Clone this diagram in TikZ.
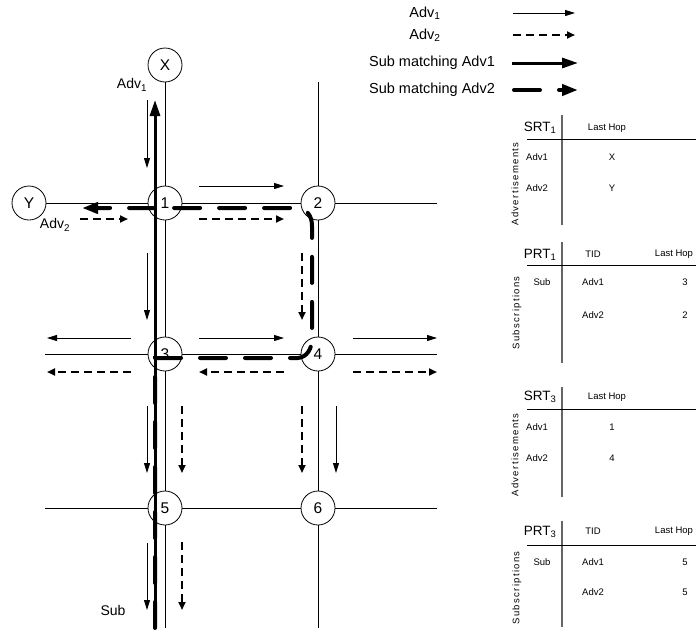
\documentclass[tikz,border=0pt]{standalone}
\usepackage{fontspec}
\setmainfont{Liberation Sans}
\usetikzlibrary{arrows.meta}
\begin{document}
\begin{tikzpicture}[x=1pt,y=-1pt,
  grid/.style={line width=0.8pt},
  nd/.style={circle,draw,fill=white,line width=0.8pt,minimum size=34pt,inner sep=0pt,font=\fontsize{15.5}{16}\selectfont},
  advone/.style={line width=0.9pt,-{Triangle[length=10pt,width=6pt]}},
  advtwo/.style={line width=2pt,dash pattern=on 8pt off 5pt,-{Triangle[length=8pt,width=7pt]}},
  subone/.style={line width=3pt,-{Triangle[length=16pt,width=10pt]}},
  subtwo/.style={line width=4pt,line cap=round,dash pattern=on 26pt off 19pt,-{Triangle[length=16pt,width=11pt]}},
  lbl/.style={font=\fontsize{14}{16}\selectfont,inner sep=0pt},
  lgd/.style={font=\fontsize{14.5}{16}\selectfont,inner sep=0pt},
  ttl/.style={font=\fontsize{13.5}{15}\selectfont,inner sep=0pt},
  tx/.style={font=\fontsize{9.5}{11}\selectfont,inner sep=0pt},
  rot/.style={font=\fontsize{9.5}{11}\selectfont\addfontfeatures{LetterSpace=14},rotate=90,inner sep=0pt},
  tv/.style={line width=1.3pt,black!60},
  th/.style={line width=0.8pt}]
\fill[white] (0,0) rectangle (696,632);
\useasboundingbox (0,0) rectangle (696,632);

% ---------- nodes ----------
\node[nd] (X) at (165,65) {X};
\node[nd] (Y) at (29,203) {Y};
\node[nd] (n1) at (165,203) {1};
\node[nd] (n2) at (318,203) {2};
\node[nd] (n3) at (165,354) {3};
\node[nd] (n4) at (318,354) {4};
\node[nd] (n5) at (165,508) {5};
\node[nd] (n6) at (318,508) {6};

\coordinate (b5) at (165,628);
\coordinate (t2) at (318,82);
\coordinate (b6) at (318,628);
\coordinate (r2) at (437,203);
\coordinate (l3) at (45,354);
\coordinate (r4) at (437,354);
\coordinate (l5) at (45,508);
\coordinate (r6) at (437,508);

% ---------- grid ----------
\draw[grid] (X) -- (n1) -- (n3) -- (n5) -- (b5);
\draw[grid] (t2) -- (n2) -- (n4) -- (n6) -- (b6);
\draw[grid] (Y) -- (n1) -- (n2) -- (r2);
\draw[grid] (l3) -- (n3) -- (n4) -- (r4);
\draw[grid] (l5) -- (n5) -- (n6) -- (r6);

% ---------- Adv1 arrows ----------
\draw[advone] (147,100) -- (147,168);
\draw[advone] (199,186) -- (284,186);
\draw[advone] (147,253) -- (147,320);
\draw[advone] (131,338) -- (47,338);
\draw[advone] (199,338) -- (284,338);
\draw[advone] (353,338) -- (437,338);
\draw[advone] (147,406) -- (147,473);
\draw[advone] (336,406) -- (336,473);
\draw[advone] (147,543) -- (147,610);

% ---------- Adv2 arrows ----------
\draw[advtwo] (80,219) -- (128,219);
\draw[advtwo] (199,219) -- (284,219);
\draw[advtwo] (302,253) -- (302,320);
\draw[advtwo] (131,372) -- (47,372);
\draw[advtwo] (284,372) -- (199,372);
\draw[advtwo] (353,372) -- (437,372);
\draw[advtwo] (182,406) -- (182,473);
\draw[advtwo] (302,406) -- (302,473);
\draw[advtwo] (182,542) -- (182,610);

% ---------- subscription paths ----------
\coordinate (sb) at (155,628);
\coordinate (xt) at (155,100);
\coordinate (yt) at (82,208);
\draw[subone] (sb) -- (xt);
\draw[subtwo] (sb) -- (155,358) -- (298,358) .. controls (307,357) and (312,349) .. (312,338) -- (312,226) .. controls (312,215) and (306,208) .. (296,208) -- (yt);

% ---------- graph labels ----------
\node[lbl] (la1) at (132,85) {Adv\textsubscript{1}};
\node[lbl] (la2) at (55,225) {Adv\textsubscript{2}};
\node[lbl] (lsub) at (113,610) {Sub};

% ---------- legend ----------
\node[lgd] (g1) at (425,13) {Adv\textsubscript{1}};
\node[lgd] (g2) at (425,35) {Adv\textsubscript{2}};
\node[lgd] (g3) at (432,63) {Sub matching Adv1};
\node[lgd] (g4) at (432,90) {Sub matching Adv2};
\draw[advone] (513,13) -- (575,13);
\draw[advtwo] (513,35) -- (575,35);
\draw[subone] (512,63) -- (578,63);
\draw[subtwo] (514,90) -- (578,90);

% ---------- SRT1 ----------
\node[ttl] (s1t) at (540,128) {SRT\textsubscript{1}};
\draw[tv] (562,115) -- (562,225);
\draw[th] (527,139) -- (696,139);
\node[tx] (s1h) at (607,128) {Last Hop};
\node[tx] (s1a) at (537,157) {Adv1};
\node[tx] (s1x) at (612,157) {X};
\node[tx] (s1b) at (537,188) {Adv2};
\node[tx] (s1y) at (612,188) {Y};
\node[rot] (s1r) at (515,184) {Advertisements};

% ---------- PRT1 ----------
\node[ttl] (p1t) at (540,255) {PRT\textsubscript{1}};
\draw[tv] (562,242) -- (562,363);
\draw[th] (527,265) -- (696,265);
\node[tx] (p1h1) at (593,254) {TID};
\node[tx] (p1h2) at (674,254) {Last Hop};
\node[tx] (p1s) at (542,282) {Sub};
\node[tx] (p1a) at (593,282) {Adv1};
\node[tx] (p1a3) at (685,282) {3};
\node[tx] (p1b) at (593,315) {Adv2};
\node[tx] (p1b2) at (685,315) {2};
\node[rot] (p1r) at (517,313) {Subscriptions};

% ---------- SRT3 ----------
\node[ttl] (s3t) at (540,397) {SRT\textsubscript{3}};
\draw[tv] (562,387) -- (562,497);
\draw[th] (527,409) -- (696,409);
\node[tx] (s3h) at (607,397) {Last Hop};
\node[tx] (s3a) at (537,427) {Adv1};
\node[tx] (s3x) at (612,427) {1};
\node[tx] (s3b) at (537,458) {Adv2};
\node[tx] (s3y) at (612,458) {4};
\node[rot] (s3r) at (515,455) {Advertisements};

% ---------- PRT3 ----------
\node[ttl] (p3t) at (540,532) {PRT\textsubscript{3}};
\draw[tv] (562,521) -- (562,627);
\draw[th] (527,545) -- (696,545);
\node[tx] (p3h1) at (593,531) {TID};
\node[tx] (p3h2) at (674,531) {Last Hop};
\node[tx] (p3s) at (542,562) {Sub};
\node[tx] (p3a) at (593,562) {Adv1};
\node[tx] (p3a5) at (685,562) {5};
\node[tx] (p3b) at (593,592) {Adv2};
\node[tx] (p3b5) at (685,592) {5};
\node[rot] (p3r) at (517,588) {Subscriptions};
\end{tikzpicture}
\end{document}
